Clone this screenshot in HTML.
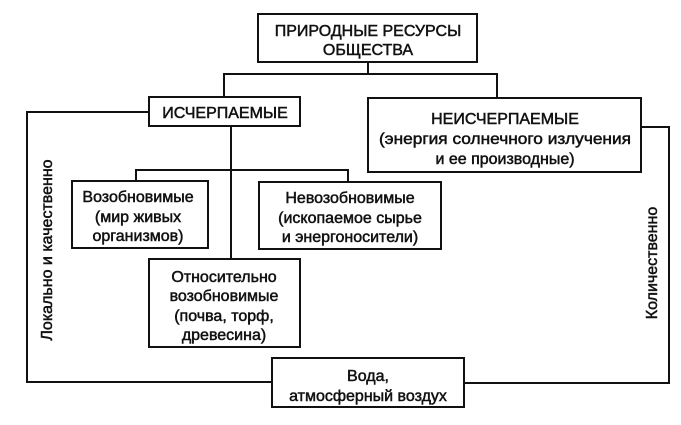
<!DOCTYPE html>
<html><head><meta charset="utf-8"><style>
html,body{margin:0;padding:0;background:#fff;}
svg{display:block;}
text{font-family:"Liberation Sans",sans-serif;font-size:16px;fill:#111;stroke:#111;stroke-width:0.5;text-anchor:middle;}
</style></head><body>
<svg width="681" height="425" viewBox="0 0 681 425">
<g fill="none" stroke="#111" stroke-width="2">
<rect x="258" y="14" width="219" height="48"/>
<polyline points="368,62 368,74"/>
<polyline points="224,97 224,74 497,74 497,98"/>
<rect x="149" y="97" width="151" height="29"/>
<rect x="368" y="98" width="273" height="74"/>
<polyline points="149,112 27,112 27,382 272,382"/>
<polyline points="641,127 669,127 669,383 464,383"/>
<rect x="272" y="358" width="192" height="49"/>
<polyline points="231,126 231,259"/>
<polyline points="136,181 136,170 348,170 348,182"/>
<rect x="72" y="181" width="136" height="67"/>
<rect x="259" y="182" width="182" height="67"/>
<rect x="149" y="259" width="151" height="88"/>
</g>
<text x="368" y="36">ПРИРОДНЫЕ РЕСУРСЫ</text>
<text x="368" y="55">ОБЩЕСТВА</text>
<text x="225" y="118">ИСЧЕРПАЕМЫЕ</text>
<text x="505" y="124">НЕИСЧЕРПАЕМЫЕ</text>
<text x="505" y="144" textLength="252" lengthAdjust="spacingAndGlyphs">(энергия солнечного излучения</text>
<text x="505" y="164">и ее производные)</text>
<text x="138" y="202">Возобновимые</text>
<text x="138" y="222">(мир живых</text>
<text x="138" y="241">организмов)</text>
<text x="350" y="203">Невозобновимые</text>
<text x="350" y="223">(ископаемое сырье</text>
<text x="350" y="242">и энергоносители)</text>
<text x="224" y="282">Относительно</text>
<text x="224" y="301">возобновимые</text>
<text x="224" y="321">(почва, торф,</text>
<text x="224" y="340">древесина)</text>
<text x="368" y="381">Вода,</text>
<text x="368" y="401">атмосферный воздух</text>
<text transform="translate(52,250) rotate(-90)">Локально и качественно</text>
<text transform="translate(657,263) rotate(-90)">Количественно</text>
</svg>
</body></html>
